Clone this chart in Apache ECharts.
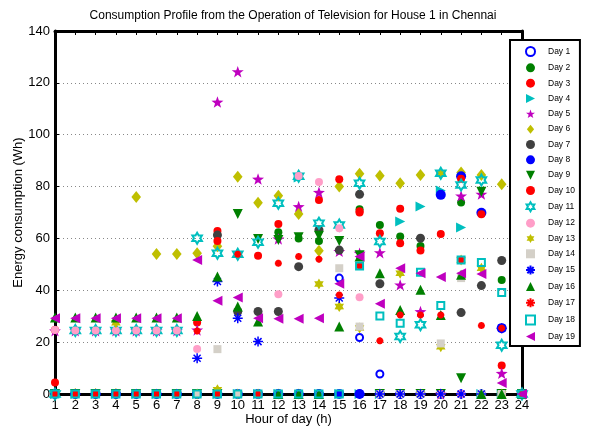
<!DOCTYPE html>
<html>
<head>
<meta charset="utf-8">
<script src="https://cdn.jsdelivr.net/npm/echarts@6/dist/echarts.min.js"></script>
<style>
  html, body { margin: 0; padding: 0; background: #fff; }
  #chart { width: 595px; height: 428px; }
</style>
</head>
<body>
<div id="chart"></div>
<script>
// hour of day
const hours = [1,2,3,4,5,6,7,8,9,10,11,12,13,14,15,16,17,18,19,20,21,22,23,24];

// energy consumption (Wh) per day
const day1  = [0,0,0,0,0,0,0,0,0,0,0,0,0,0,44.7,21.8,7.7,0,0,0,0,0,0,0];
const day2  = [0,0,0,0,0,0,0,0,0,0,0,62.4,60,59,0,71.3,65.2,60.7,57.1,0,73.9,0,44,0];
const day3  = [24.7,24.5,24.5,24.5,24.5,24.5,24.5,27.6,62.9,0,0,65.6,0,74.8,0,70,62,71.4,55.3,61.7,0,0,11,0];
const day4  = [0,0,0,0,0,0,0,0,0,0,0,0,83.5,0,0,0,0,66.5,72.3,78.5,64.2,0,0,0];
const day5  = [24.4,24.4,24.4,24.4,24.4,24.4,24.4,24.7,112.6,124.3,82.9,59.8,72.3,77.8,55,54.3,54.5,42.1,31.8,0,76.4,77.1,8,0];
const day6  = [0,0,0,0,76,54,54,54.3,57,83.8,73.8,76.5,69.4,55.2,80,84.9,84.2,81.3,84.5,85,85.4,84.5,80.9,0];
const day7  = [0,0,0,0,0,0,0,0,61.3,31.8,31.8,31.8,49.1,63.3,55.5,77,42.5,0,60.1,0,31.4,41.8,51.5,0];
const day8  = [0,0,0,0,0,0,0,0,0,0,0,0,0,0,0,0,0,0,0,76.8,84,69.9,25.4,0];
const day9  = [0,0,0,0,0,0,0,0,0,69.4,59.8,59.4,60.5,61,59,53.5,0,0,0,0,6.1,78,0,0];
const day10 = [4.4,0,0,0,0,0,0,0,59,0,53.3,0,0,0,82.8,70.5,0,58.1,0,0,83,69.3,0,0];
const day11 = [0,24.5,24.5,24.5,24.5,24.5,24.5,60.1,54.3,53.9,58.5,73.6,84,65.9,65.2,81.3,58.8,22.2,26.7,85.1,80.6,82.5,18.8,0];
const day12 = [24.7,24.5,24.5,24.5,24.5,24.5,24.5,17.4,0,0,0,38.5,84.1,81.8,63.9,37.3,0,0,0,0,0,0,0,0];
const day13 = [0,0,0,27.5,0,0,0,0,1.6,0,0,0,0,42.4,33.7,25.5,0,46.6,0,18.2,51.7,48.5,0,0];
const day14 = [0,0,0,0,0,0,0,0,17.3,0,0,0,0,0,48.5,26,0,0,0,19.5,44.7,0,0,0];
const day15 = [0,0,0,0,0,0,0,13.8,43.4,29.2,20.2,0,0,0,37,0,0,0,0,0,0,0,25.4,0];
const day16 = [29.5,29.5,29.5,29.5,29.5,29.5,29.5,30.1,45.3,33.7,28,0,0,0,26,53,46.6,32.4,40.2,30.5,46,0,0,0];
const day17 = [0,0,0,0,0,0,0,24.3,0,53.9,0,50.4,53,52,38.2,49.4,20.5,30.5,30.5,30.5,51.7,26.4,25.4,0];
const day18 = [0,0,0,0,0,0,0,0,0,0,0,0,0,0,0,49.4,30.1,27.3,47,34.1,51.7,50.7,39.1,0];
const day19 = [29.2,29.2,29.2,29.2,29.2,29.2,29.2,51.7,36,37.2,29.2,29,29,29.2,42.5,53,34.8,48.5,46.6,45.1,46.6,46.3,4.2,0];

const dayNames = ['Day 1','Day 2','Day 3','Day 4','Day 5','Day 6','Day 7','Day 8','Day 9','Day 10',
  'Day 11','Day 12','Day 13','Day 14','Day 15','Day 16','Day 17','Day 18','Day 19'];
const dayValues = [day1,day2,day3,day4,day5,day6,day7,day8,day9,day10,
  day11,day12,day13,day14,day15,day16,day17,day18,day19];

// star shaped symbol paths
function starPath(n, rOut, rIn) {
  let d = '';
  for (let i = 0; i < 2 * n; i++) {
    const r = i % 2 === 0 ? rOut : rIn;
    const a = Math.PI * i / n - Math.PI / 2;
    d += (i === 0 ? 'M' : 'L') + (50 + r * Math.cos(a)).toFixed(2) + ' ' + (50 + r * Math.sin(a)).toFixed(2);
  }
  return 'path://' + d + 'Z';
}
const pentagram = starPath(5, 50, 20);
const hexagram = starPath(6, 50, 29);
const asterisk = 'path://M50 0L50 100M0 50L100 50M15 15L85 85M85 15L15 85';
const triRight = 'path://M0 0L100 50L0 100Z';
const triLeft = 'path://M100 0L0 50L100 100Z';
const triDown = 'path://M0 0L100 0L50 100Z';
const triUp = 'path://M50 0L100 100L0 100Z';
const square = 'path://M0 0L100 0L100 100L0 100Z';
const rhomb = 'path://M40 0L80 50L40 100L0 50Z';
const clear = 'rgba(0,0,0,0)';

// marker look for each day
const markers = [
  { symbol: 'circle', size: 7, color: '#fff', border: '#0000ff', bw: 2 },
  { symbol: 'circle', size: 8, color: '#008000' },
  { symbol: 'circle', size: 8, color: '#ff0000' },
  { symbol: triRight, size: 10, color: '#00bfbf' },
  { symbol: pentagram, size: 12, color: '#bf00bf' },
  { symbol: rhomb, size: 12, color: '#bfbf00' },
  { symbol: 'circle', size: 9, color: '#404040' },
  { symbol: 'circle', size: 10, color: '#0000ff' },
  { symbol: triDown, size: 10, color: '#008000' },
  { symbol: 'circle', size: 8, color: '#ff0000' },
  { symbol: hexagram, size: 11, color: clear, border: '#00bfbf', bw: 2 },
  { symbol: 'circle', size: 8, color: '#ff9ec8' },
  { symbol: hexagram, size: 11, color: '#bfbf00' },
  { symbol: square, size: 8, color: '#d4d0c8' },
  { symbol: asterisk, size: 10, color: clear, border: '#0000ff', bw: 1.5 },
  { symbol: triUp, size: 10, color: '#008000' },
  { symbol: asterisk, size: 7, color: clear, border: '#ff0000', bw: 2.2 },
  { symbol: square, size: 7, color: clear, border: '#00bfbf', bw: 2 },
  { symbol: triLeft, size: 10, color: '#bf00bf' }
];

const series = dayNames.map(function (name, k) {
  const m = markers[k];
  return {
    name: name,
    type: 'scatter',
    xAxisIndex: 0,
    yAxisIndex: 0,
    symbol: m.symbol,
    symbolSize: m.size,
    symbolKeepAspect: true,
    itemStyle: {
      color: m.color,
      borderColor: m.border || m.color,
      borderWidth: m.bw || 0,
      opacity: 1
    },
    emphasis: { disabled: true },
    data: hours.map(function (h, i) { return [h, dayValues[k][i]]; })
  };
});

const font = 'Liberation Sans, Arial, Helvetica, sans-serif';
const chart = echarts.init(document.getElementById('chart'), null, { renderer: 'canvas' });
chart.setOption({
  animation: false,
  backgroundColor: '#fff',
  textStyle: { fontFamily: font },
  title: {
    text: 'Consumption Profile from the Operation of Television for House 1 in Chennai',
    left: 288, top: 5, textAlign: 'center',
    textStyle: { fontSize: 12, fontWeight: 'normal', color: '#000', fontFamily: font }
  },
  grid: { left: 55, right: 73, top: 31, bottom: 34, containLabel: false, outerBoundsMode: 'none' },
  legend: {
    orient: 'vertical',
    left: 510, top: 40,
    data: dayNames,
    itemWidth: 9, itemHeight: 9, itemGap: 6.33,
    padding: [6, 5, 5, 15],
    backgroundColor: '#fff',
    borderColor: '#000', borderWidth: 2, borderRadius: 0,
    textStyle: { fontSize: 8.5, lineHeight: 9, color: '#000', fontFamily: font, padding: [0, 0, 0, 8] },
    z: 10
  },
  xAxis: [{
    type: 'value', min: 1, max: 24, interval: 1,
    name: 'Hour of day (h)', nameLocation: 'middle', nameGap: 18.5, nameMoveOverlap: false,
    nameTextStyle: { fontSize: 13, color: '#000', fontFamily: font },
    axisLine: { onZero: false, lineStyle: { color: '#000', width: 3 } },
    axisTick: { inside: true, length: 4, lineStyle: { color: '#000', width: 1 } },
    axisLabel: { fontSize: 13, color: '#000', margin: 5, fontFamily: font },
    splitLine: { show: false }
  }, {
    type: 'value', min: 1, max: 24, interval: 1, position: 'top',
    axisLine: { onZero: false, lineStyle: { color: '#000', width: 3 } },
    axisTick: { inside: true, length: 4, lineStyle: { color: '#000', width: 1 } },
    axisLabel: { show: false },
    splitLine: { show: false }
  }],
  yAxis: [{
    type: 'value', min: 0, max: 140, interval: 20,
    name: 'Energy consumption (Wh)', nameLocation: 'middle', nameGap: 30, nameMoveOverlap: false,
    nameTextStyle: { fontSize: 13, color: '#000', fontFamily: font },
    axisLine: { show: true, onZero: false, lineStyle: { color: '#000', width: 3 } },
    axisTick: { show: true, inside: true, length: 4, lineStyle: { color: '#000', width: 1 } },
    axisLabel: { fontSize: 13, color: '#000', margin: 5, fontFamily: font },
    splitLine: { show: true, lineStyle: { color: '#888', width: 1, type: [1, 3] } }
  }, {
    type: 'value', min: 0, max: 140, interval: 20, position: 'right',
    axisLine: { show: true, onZero: false, lineStyle: { color: '#000', width: 3 } },
    axisTick: { show: true, inside: true, length: 4, lineStyle: { color: '#000', width: 1 } },
    axisLabel: { show: false },
    splitLine: { show: false }
  }],
  series: series
});
</script>
</body>
</html>
